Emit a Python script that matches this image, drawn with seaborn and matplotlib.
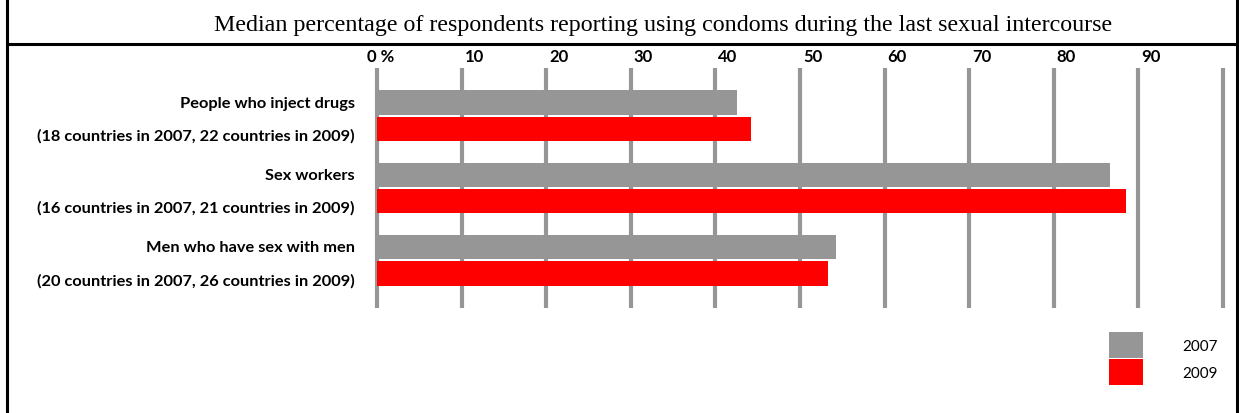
import matplotlib
matplotlib.use('Agg')
import pandas as pd
import matplotlib.pyplot as plt
import seaborn as sns
from matplotlib.lines import Line2D
from matplotlib.transforms import ScaledTranslation

# Chart data
groups = ['People who inject drugs', 'Sex workers', 'Men who have sex with men']
countries = ['(18 countries in 2007, 22 countries in 2009)',
             '(16 countries in 2007, 21 countries in 2009)',
             '(20 countries in 2007, 26 countries in 2009)']
years = ['2007', '2009']
values_2007 = [42.6, 86.6, 54.3]
values_2009 = [44.2, 88.5, 53.3]
tick_values = [0, 10, 20, 30, 40, 50, 60, 70, 80, 90]
tick_labels = ['0 %', '10', '20', '30', '40', '50', '60', '70', '80', '90']
title = 'Median percentage of respondents reporting using condoms during the last sexual intercourse'

df = pd.DataFrame({
    'group': groups * 2,
    'year': [years[0]] * 3 + [years[1]] * 3,
    'value': values_2007 + values_2009,
})

sns.set_style('white', {'text.color': 'black', 'xtick.color': 'black', 'ytick.color': 'black'})
plt.rcParams['font.family'] = ['Lato', 'DejaVu Sans']

W, H = 1239, 414
fig = plt.figure(figsize=(W / 100, H / 100), dpi=100)

# axes placed in pixel terms: x 0 -> 377px, 100 -> 1223px ; y from 69px to 309px
ppu = (1223 - 377) / 100
x0 = 377 - 0.5 * ppu
x1 = 1223 + 0.5 * ppu
ax = fig.add_axes([x0 / W, (H - 309) / H, (x1 - x0) / W, (309 - 69) / H])

sns.barplot(data=df, x='value', y='group', hue='year', orient='h',
            palette=['#969696', '#ff0000'], width=0.726, gap=0.077,
            saturation=1, linewidth=0, ax=ax, zorder=3)

ax.set_xlim(-0.5, 100.5)
ax.set_ylim(2.658, -0.658)

# vertical gridlines
for v in range(0, 101, 10):
    ax.axvline(v, color='#969696', lw=3, zorder=1)

for s in ax.spines.values():
    s.set_visible(False)

# top tick labels
ax.xaxis.tick_top()
ax.set_xticks(tick_values, tick_labels)
ax.tick_params(axis='x', length=0, pad=3, labelsize=12, labelcolor='black')
for lab in ax.get_xticklabels():
    lab.set_fontweight('bold')
    lab.set_horizontalalignment('left')
    dx = -10 if lab.get_text() == '0 %' else 3
    lab.set_transform(lab.get_transform() + ScaledTranslation(dx / 100, 0, fig.dpi_scale_trans))
ax.set_xlabel('')
ax.set_ylabel('')

# two-line category labels
pos, labs = [], []
for i in range(len(groups)):
    pos += [i - 0.2, i + 0.25]
    labs += [groups[i], countries[i]]
ax.set_yticks(pos, labs)
ax.tick_params(axis='y', length=0, pad=13, labelsize=11.8, labelcolor='black')
for lab in ax.get_yticklabels():
    lab.set_fontweight('bold')

# legend
sns.move_legend(ax, 'upper left', bbox_to_anchor=(1109 / W, (H - 333) / H),
                bbox_transform=fig.transFigure, title=None, frameon=False,
                fontsize=11, handlelength=2.2, handleheight=2.2,
                handletextpad=2.6, labelspacing=0.12, borderpad=0,
                borderaxespad=0, labelcolor='black')

# title and frame lines
fig.text(663 / W, (H - 25) / H, title, ha='center', va='center',
         fontsize=17.3, family='Liberation Serif', color='black')
fig.add_artist(Line2D([6.5 / W, 6.5 / W], [0, 1], color='black', lw=2.2, transform=fig.transFigure))
fig.add_artist(Line2D([1236.5 / W, 1236.5 / W], [0, 1], color='black', lw=2.2, transform=fig.transFigure))
fig.add_artist(Line2D([6.5 / W, 1236.5 / W], [(H - 44.5) / H] * 2, color='black', lw=2.2, transform=fig.transFigure))

fig.savefig('out.png', dpi=100)
